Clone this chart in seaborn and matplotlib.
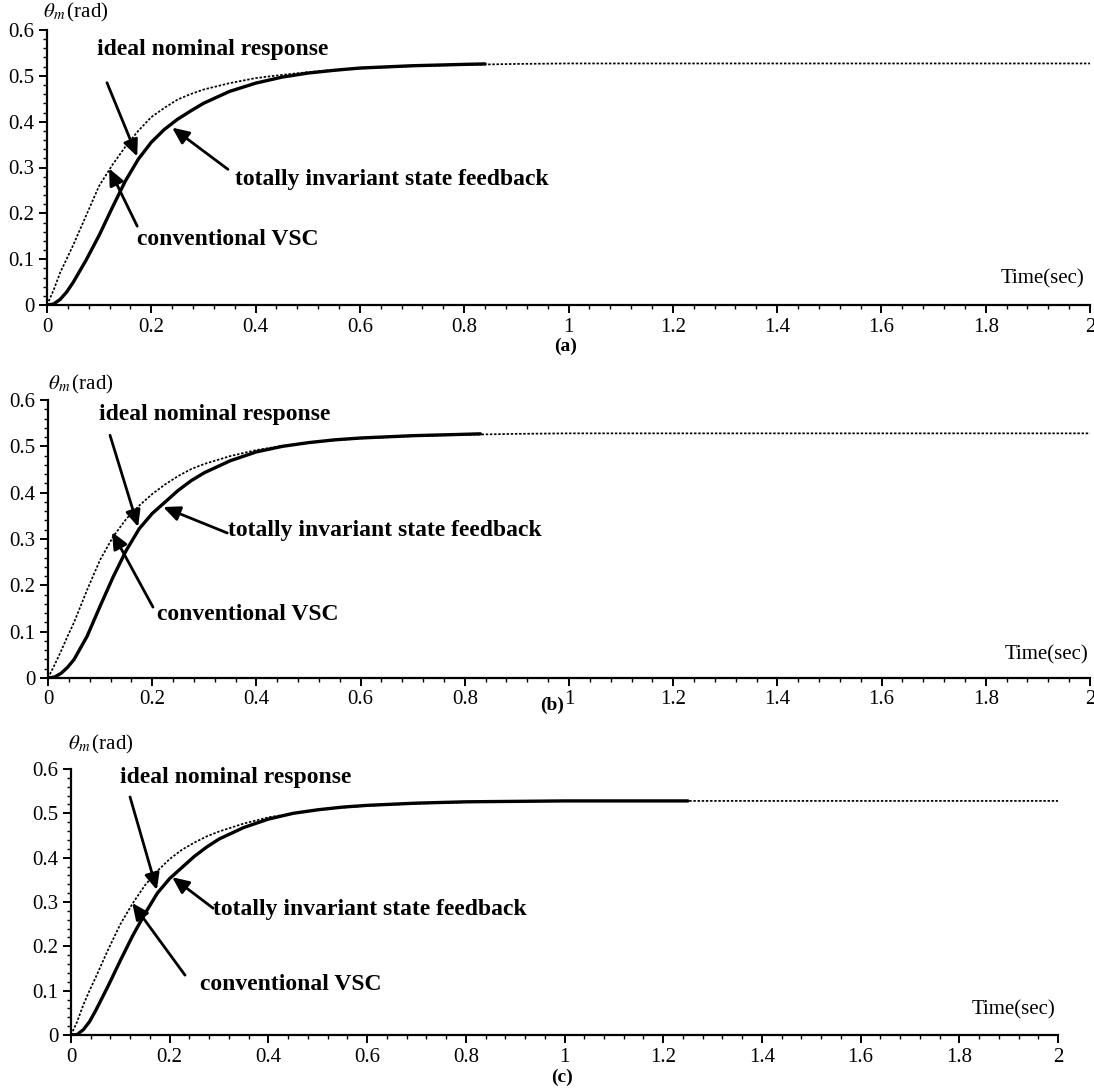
import numpy as np
import pandas as pd
import matplotlib
matplotlib.use("Agg")
import matplotlib.pyplot as plt
from matplotlib.ticker import MultipleLocator, FuncFormatter
import seaborn as sns

# ---------------- data ----------------
t_ideal = [0, 0.0125, 0.025, 0.0375, 0.05, 0.075, 0.1, 0.125, 0.15, 0.175, 0.2, 0.225,
           0.25, 0.275, 0.3, 0.35, 0.4, 0.45, 0.5, 0.55, 0.6, 0.7, 0.8, 0.9, 1.0,
           1.2, 1.4, 1.6, 1.8, 2.0]
ideal_a = [0, 0.032, 0.07, 0.10, 0.13, 0.195, 0.26, 0.305, 0.345, 0.38, 0.41, 0.43,
           0.448, 0.46, 0.47, 0.484, 0.495, 0.502, 0.508, 0.513, 0.516, 0.521, 0.524,
           0.526, 0.527, 0.527, 0.527, 0.527, 0.527, 0.527]
ideal_b = [0, 0.028, 0.058, 0.09, 0.12, 0.19, 0.255, 0.305, 0.343, 0.372, 0.397, 0.418,
           0.436, 0.451, 0.462, 0.479, 0.492, 0.501, 0.508, 0.513, 0.517, 0.522, 0.525,
           0.527, 0.528, 0.528, 0.528, 0.528, 0.528, 0.528]
ideal_c = [0, 0.03, 0.068, 0.1, 0.13, 0.192, 0.25, 0.297, 0.338, 0.37, 0.397, 0.418,
           0.434, 0.448, 0.459, 0.477, 0.491, 0.5, 0.508, 0.513, 0.517, 0.522, 0.525,
           0.527, 0.528, 0.528, 0.528, 0.528, 0.528, 0.528]

t_robust_a = [0, 0.0125, 0.025, 0.0375, 0.05, 0.075, 0.1, 0.125, 0.15, 0.175, 0.2, 0.225,
              0.25, 0.275, 0.3, 0.35, 0.4, 0.45, 0.5, 0.55, 0.6, 0.7, 0.8, 0.84]
robust_a = [0, 0.002, 0.012, 0.028, 0.049, 0.098, 0.152, 0.212, 0.27, 0.318, 0.355, 0.383,
            0.405, 0.423, 0.44, 0.466, 0.484, 0.497, 0.506, 0.512, 0.517, 0.522, 0.525, 0.526]
t_robust_b = [0, 0.0125, 0.025, 0.0375, 0.05, 0.075, 0.1, 0.125, 0.15, 0.175, 0.2, 0.225,
              0.25, 0.275, 0.3, 0.35, 0.4, 0.45, 0.5, 0.55, 0.6, 0.7, 0.8, 0.83]
robust_b = [0, 0.002, 0.01, 0.023, 0.04, 0.09, 0.155, 0.218, 0.275, 0.322, 0.355, 0.38,
            0.405, 0.426, 0.443, 0.469, 0.488, 0.5, 0.508, 0.514, 0.518, 0.523, 0.526, 0.527]
t_robust_c = [0, 0.0125, 0.025, 0.0375, 0.05, 0.075, 0.1, 0.125, 0.15, 0.175, 0.2, 0.225,
              0.25, 0.275, 0.3, 0.35, 0.4, 0.45, 0.5, 0.55, 0.6, 0.7, 0.8, 0.9, 1.0, 1.1, 1.25]
robust_c = [0, 0.001, 0.012, 0.03, 0.055, 0.11, 0.168, 0.224, 0.274, 0.32, 0.353, 0.378,
            0.403, 0.424, 0.442, 0.468, 0.487, 0.5, 0.508, 0.514, 0.518, 0.523, 0.526,
            0.527, 0.528, 0.528, 0.528]

x_ticks = [0, 0.2, 0.4, 0.6, 0.8, 1.0, 1.2, 1.4, 1.6, 1.8, 2.0]
y_ticks = [0, 0.1, 0.2, 0.3, 0.4, 0.5, 0.6]
panel_labels = ["(a)", "(b)", "(c)"]
label_ideal = "ideal nominal response"
label_tisf = "totally invariant state feedback"
label_vsc = "conventional VSC"
x_label = "Time(sec)"
y_label = r"$\theta_m\,$(rad)"

# ---------------- styling ----------------
sns.set_style("ticks")
plt.rcParams["font.family"] = ["Liberation Serif", "DejaVu Serif"]
plt.rcParams["mathtext.fontset"] = "stix"
plt.rcParams["text.color"] = "black"
plt.rcParams["axes.labelcolor"] = "black"
plt.rcParams["xtick.color"] = "black"
plt.rcParams["ytick.color"] = "black"

fig = plt.figure(figsize=(10.94, 10.91), dpi=100)

# axes rectangles in figure fractions
rects = [
    [47 / 1094, (1091 - 305) / 1091, 1043 / 1094, 275 / 1091],
    [48 / 1094, (1091 - 678) / 1091, 1042 / 1094, 278 / 1091],
    [71 / 1094, (1091 - 1035) / 1091, 987 / 1094, 266 / 1091],
]

panels = [
    dict(ideal=ideal_a, t_rob=t_robust_a, rob=robust_a,
         arr_ideal=((0.115, 0.485), (0.173, 0.324)),
         arr_vsc=((0.173, 0.172), (0.119, 0.298)),
         arr_tisf=((0.347, 0.296), (0.240, 0.387)),
         txt_ideal=(0.096, 0.557), txt_tisf=(0.36, 0.274), txt_vsc=(0.173, 0.143),
         txt_time=(1.99, 0.057), lab=(0.497, -0.118), ylab=(-0.004, 1.02)),
    dict(ideal=ideal_b, t_rob=t_robust_b, rob=robust_b,
         arr_ideal=((0.119, 0.524), (0.173, 0.326)),
         arr_vsc=((0.2015, 0.153), (0.123, 0.315)),
         arr_tisf=((0.344, 0.313), (0.221, 0.369)),
         txt_ideal=(0.098, 0.568), txt_tisf=(0.345, 0.319), txt_vsc=(0.209, 0.136),
         txt_time=(1.996, 0.05), lab=(0.484, -0.068), ylab=(0.0, 1.015)),
    dict(ideal=ideal_c, t_rob=t_robust_c, rob=robust_c,
         arr_ideal=((0.1196, 0.537), (0.174, 0.327)),
         arr_vsc=((0.231, 0.135), (0.124, 0.298)),
         arr_tisf=((0.288, 0.286), (0.205, 0.356)),
         txt_ideal=(0.099, 0.58), txt_tisf=(0.288, 0.282), txt_vsc=(0.261, 0.113),
         txt_time=(1.994, 0.056), lab=(0.497, -0.128), ylab=(-0.003, 1.05)),
]

for i, (rect, p) in enumerate(zip(rects, panels)):
    ax = fig.add_axes(rect)
    df_ideal = pd.DataFrame({"t": t_ideal, "theta": p["ideal"]})
    df_rob = pd.DataFrame({"t": p["t_rob"], "theta": p["rob"]})
    sns.lineplot(data=df_ideal, x="t", y="theta", ax=ax, color="black",
                 linewidth=1.25, linestyle=(0, (1.4, 1.0)), errorbar=None, sort=False)
    sns.lineplot(data=df_rob, x="t", y="theta", ax=ax, color="black",
                 linewidth=2.4, errorbar=None, sort=False)

    ax.set_xlim(0, 2)
    ax.set_ylim(0, 0.6)
    ax.set_xlabel("")
    ax.set_ylabel("")
    ax.set_xticks(x_ticks)
    ax.set_yticks(y_ticks)
    ax.xaxis.set_minor_locator(MultipleLocator(0.04))
    ax.yaxis.set_minor_locator(MultipleLocator(0.02))
    ax.xaxis.set_major_formatter(FuncFormatter(lambda v, _: f"{v:g}"))
    ax.yaxis.set_major_formatter(FuncFormatter(lambda v, _: f"{v:g}"))
    ax.tick_params(axis="both", which="major", direction="out", length=6, width=1.4,
                   labelsize=15, colors="black", labelcolor="black", pad=3)
    ax.tick_params(axis="both", which="minor", direction="out", length=3, width=1.0,
                   colors="black")
    for s in ["top", "right"]:
        ax.spines[s].set_visible(False)
    for s in ["left", "bottom"]:
        ax.spines[s].set_linewidth(1.6)
        ax.spines[s].set_color("black")
    ax.patch.set_alpha(0)

    arrow_kw = dict(arrowstyle="-|>,head_length=1.0,head_width=0.45", color="black",
                    lw=2.0, shrinkA=0, shrinkB=0)
    for key in ["arr_ideal", "arr_vsc", "arr_tisf"]:
        (x0, y0), (x1, y1) = p[key]
        ax.annotate("", xy=(x1, y1), xytext=(x0, y0), arrowprops=arrow_kw)

    ax.text(*p["txt_ideal"], label_ideal, fontsize=17, fontweight="bold",
            color="black", ha="left", va="center")
    ax.text(*p["txt_tisf"], label_tisf, fontsize=17, fontweight="bold",
            color="black", ha="left", va="center")
    ax.text(*p["txt_vsc"], label_vsc, fontsize=17, fontweight="bold",
            color="black", ha="left", va="center")
    ax.text(*p["txt_time"], x_label, fontsize=15, color="black", ha="right", va="center")
    ax.text(*p["ylab"], y_label, transform=ax.transAxes, fontsize=15, color="black",
            ha="left", va="bottom")
    ax.text(*p["lab"], panel_labels[i], transform=ax.transAxes, fontsize=14,
            fontweight="bold", color="black", ha="center", va="top")

fig.savefig("out.png", dpi=100, facecolor="white")
